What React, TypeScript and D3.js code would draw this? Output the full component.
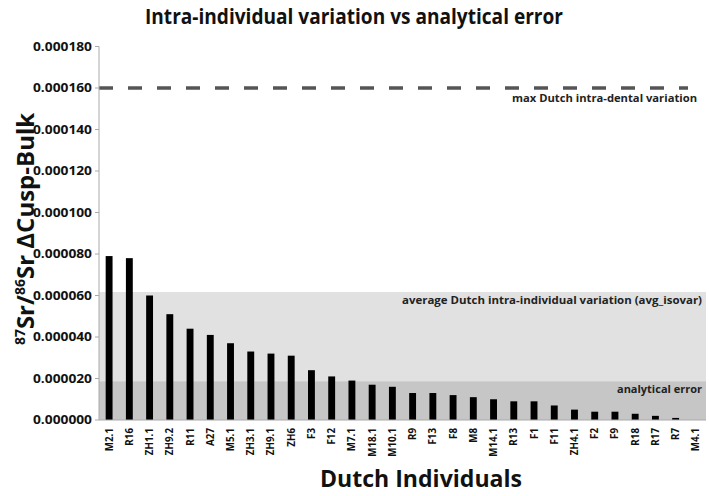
import React from "react";
import * as d3 from "d3";

const individuals = ["M2.1","R16","ZH1.1","ZH9.2","R11","A27","M5.1","ZH3.1","ZH9.1","ZH6","F3","F12","M7.1","M18.1","M10.1","R9","F13","F8","M8","M14.1","R13","F1","F11","ZH4.1","F2","F9","R18","R17","R7","M4.1"];
const deltaValues = [0.000079,0.000078,0.000060,0.000051,0.000044,0.000041,0.000037,0.000033,0.000032,0.000031,0.000024,0.000021,0.000019,0.000017,0.000016,0.000013,0.000013,0.000012,0.000011,0.000010,0.000009,0.000009,0.000007,0.000005,0.000004,0.000004,0.000003,0.000002,0.000001,0];
const yTicks = [0,0.00002,0.00004,0.00006,0.00008,0.0001,0.00012,0.00014,0.00016,0.00018];
const maxIntraDental = 0.00016;
const avgIsovar = 0.0000617;
const analyticalError = 0.0000186;

const W = 709, H = 496;
const FONT = "'Open Sans', sans-serif";

export default function App() {
  const x = d3.scaleBand<string>().domain(individuals).range([99, 706]).paddingInner(0.66).paddingOuter(0.33);
  const y = d3.scaleLinear().domain([0, 0.00018]).range([420, 46.5]);
  const fmt = (v: number) => v.toFixed(6);
  const x0 = 99, x1 = 706;
  return (
    <svg width={W} height={H} style={{ position: "absolute", left: 0, top: 0, background: "#fff" }} fontFamily={FONT}>
      <rect x={x0} y={y(avgIsovar)} width={x1 - x0} height={y(0) - y(avgIsovar)} fill="#e1e1e1" />
      <rect x={x0} y={y(analyticalError)} width={x1 - x0} height={y(0) - y(analyticalError)} fill="#c6c6c6" />
      {individuals.map((d, i) => (
        <rect key={d} x={x(d)!} y={y(deltaValues[i])} width={x.bandwidth()} height={y(0) - y(deltaValues[i])} fill="#000" />
      ))}
      <line x1={x0} x2={688} y1={y(maxIntraDental)} y2={y(maxIntraDental)} stroke="#555" strokeWidth={3.5} strokeDasharray="14 15" />
      <line x1={x0} x2={x0} y1={y(0.00018)} y2={y(0)} stroke="#aaa" strokeWidth={1} />
      <line x1={x0} x2={x1} y1={y(0)} y2={y(0)} stroke="#aaa" strokeWidth={1} />
      {yTicks.map(t => (
        <g key={t}>
          <line x1={x0 - 4} x2={x0} y1={y(t)} y2={y(t)} stroke="#aaa" />
          <text x={92} y={y(t)} dy="0.35em" textAnchor="end" fontSize={12.5} fontWeight={700} fill="#111" textLength={59} lengthAdjust="spacingAndGlyphs">{fmt(t)}</text>
        </g>
      ))}
      {individuals.map(d => (
        <text key={d} transform={`translate(${x(d)! + x.bandwidth() / 2 + 3.5},428) rotate(-90)`} textAnchor="end" fontSize={9.8} fontWeight={700} fill="#111">{d}</text>
      ))}
      <text x={697} y={102} textAnchor="end" fontSize={11.2} fontWeight={700} fill="#222" textLength={185} lengthAdjust="spacingAndGlyphs">max Dutch intra-dental variation</text>
      <text x={702} y={304} textAnchor="end" fontSize={11.2} fontWeight={700} fill="#222" textLength={300} lengthAdjust="spacingAndGlyphs">average Dutch intra-individual variation (avg_isovar)</text>
      <text x={702} y={393} textAnchor="end" fontSize={11.2} fontWeight={700} fill="#222" textLength={85} lengthAdjust="spacingAndGlyphs">analytical error</text>
      <text x={354} y={24} textAnchor="middle" fontSize={21} fontWeight={700} fill="#111" textLength={418} lengthAdjust="spacingAndGlyphs">Intra-individual variation vs analytical error</text>
      <text x={421} y={487} textAnchor="middle" fontSize={24} fontWeight={700} fill="#111" textLength={202} lengthAdjust="spacingAndGlyphs">Dutch Individuals</text>
      <text transform="translate(34,229) rotate(-90)" textAnchor="middle" fontSize={24} fontWeight={700} fill="#111">
        <tspan fontSize={14} dy="-9">87</tspan>
        <tspan dy="9">Sr/</tspan>
        <tspan fontSize={14} dy="-9">86</tspan>
        <tspan dy="9">Sr ΔCusp-Bulk</tspan>
      </text>
    </svg>
  );
}
